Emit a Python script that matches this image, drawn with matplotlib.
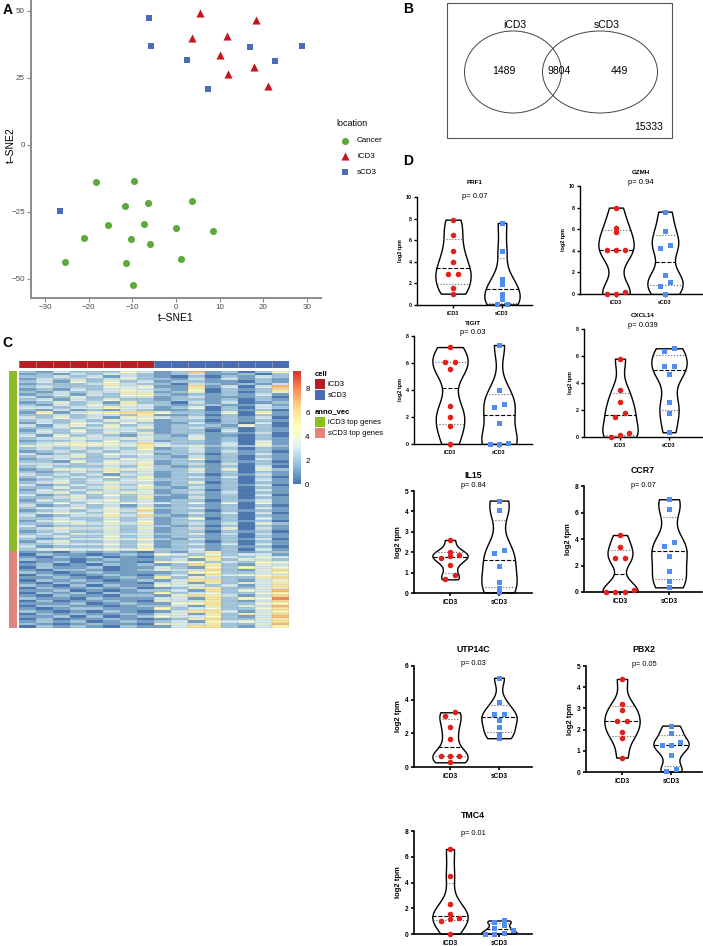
import numpy as np
import matplotlib
matplotlib.use("Agg")
import matplotlib.pyplot as plt
from matplotlib.colors import LinearSegmentedColormap, ListedColormap
from matplotlib.patches import Ellipse, Rectangle

W, H = 703, 946
plt.rcParams["font.family"] = ["Liberation Sans", "DejaVu Sans"]

# Panel A - t-SNE coordinates
cancer_x = [-18.3, -9.6, -11.7, -6.4, 3.7, -15.6, -7.3, 0.0, 8.5, -21.0, -10.3, -6.0, -25.4, -11.4, 1.1, -9.8]
cancer_y = [-13.8, -13.4, -22.8, -21.6, -20.9, -29.9, -29.5, -31.0, -32.0, -34.7, -35.0, -36.9, -43.7, -44.0, -42.5, -52.2]
icd3_x = [5.5, 18.3, 3.7, 11.7, 10.0, 11.9, 17.8, 21.0]
icd3_y = [49.2, 46.6, 39.9, 40.6, 33.6, 26.5, 29.1, 22.0]
scd3_x = [-6.2, -5.7, 2.5, 7.3, 17.0, 22.7, 28.9, -26.5]
scd3_y = [47.4, 37.0, 31.7, 21.0, 36.6, 31.3, 37.0, -24.6]

# Panel B - Venn counts
venn_sets = ["iCD3", "sCD3"]
venn_counts = [1489, 9804, 449]
venn_total = 15333

# Panel C - heatmap (one digit per cell, 8 iCD3 then 8 sCD3 samples)
cell_groups = ["iCD3"] * 8 + ["sCD3"] * 8
heat_rows_icd3 = [
    "2132225312712025", "1213243212311202", "2232313210202132", "1323234221313121",
    "2314242312211021", "1222353220321213", "2322243411613037", "1213234321502126",
    "2132335412402024", "1231324521212131", "3124223312311120", "2313242212212021",
    "1242315220313012", "2132424321221131", "3323353312402032", "2131213211202120",
    "1513456642214051", "2232332511202021", "3242314432312130", "2323243412202121",
    "1324324211312030", "3134242312221420", "2232343512312021", "1324233212203021",
    "2323242412212130", "3142321321311020", "2334334422412021", "1223242312212031",
    "2345443632213041", "4434444543423242", "2323232512312021", "1232323322313120",
    "3123243412202131", "2334232321312021", "1232224322412031", "2214243412202120",
    "3332343512313021", "2322232421212030", "1244354422414042", "2123242312312021",
    "3232313312202131", "2323242512313020", "1232323422212031", "2342343312402021",
    "3123232412212130", "2242353521312021", "1323232312202031", "2342434412313021",
    "3123242321212030", "2234232511312021", "1323342312202131", "2242434432414041",
    "3123231312212020", "2334242522312031", "1232343612202121", "2343242412313030",
    "3123353621212021", "2232232312402031", "1343242412212120", "2234343512313042",
    "3122232321202021", "2343342412314031", "1232232312202120", "2324343422413031",
    "3232242312212021", "2123343521312130", "1342232312202021", "2233342412313031",
    "3122232412212120", "2343343522312031",
]
heat_rows_scd3 = [
    "1102121021352122", "0211012143242331", "1021201022563243", "2110121123152432",
    "0120211054423254", "1201021212652143", "0211201132152534", "1022101243362146",
    "2101211112552235", "0210121023163443", "1121012152432256", "0212101213662134",
    "1021211034152545", "2102021143323136", "0211212012552244", "1120101223162437",
    "0212021152342245", "1021102214653136", "2110211133162548", "0201121043352136",
    "1112012114562245", "0221101223152437", "1012211152342246", "2101021013663135",
    "0212112134152546", "1120201243352137", "0201121012562245", "1212012123153436",
    "2101211054352247", "0212102113662135",
]

# Panel D - violin data (log2 tpm)
genes = ["PRF1", "GZMH", "TIGIT", "CXCL14", "IL15", "CCR7", "UTP14C", "PBX2", "TMC4"]
p_values = ["0.07", "0.94", "0.03", "0.039", "0.84", "0.07", "0.03", "0.05", "0.01"]
y_max = [10, 10, 8, 8, 5, 8, 6, 5, 8]
y_step = [2, 2, 2, 2, 1, 2, 2, 1, 2]
icd3_vals = [
    [7.9, 6.5, 5.0, 4.0, 2.85, 2.85, 1.6, 1.05],
    [8.0, 6.15, 5.72, 4.03, 4.03, 4.03, 0.18, 0.0, 0.0],
    [7.18, 6.1, 6.05, 5.55, 2.81, 1.98, 1.36, 0.0],
    [5.8, 3.5, 2.62, 1.75, 1.48, 0.3, 0.12, 0.0],
    [2.6, 2.03, 1.87, 1.79, 1.74, 1.38, 0.86, 0.67],
    [4.3, 3.37, 2.59, 2.57, 0.18, 0.0, 0.0, 0.0],
    [3.25, 3.05, 2.36, 1.67, 0.65, 0.65, 0.65, 0.28],
    [4.39, 3.19, 2.91, 2.4, 2.4, 1.9, 1.62, 0.68],
    [6.6, 4.52, 2.31, 1.58, 1.27, 1.2, 1.04, 0.0],
]
scd3_vals = [
    [7.6, 5.0, 2.45, 1.9, 1.05, 0.6, 0.05, 0.05],
    [7.63, 5.82, 4.55, 4.25, 1.75, 1.08, 0.77, 0.0],
    [7.33, 4.0, 2.94, 2.74, 1.56, 0.1, 0.0, 0.0],
    [6.57, 6.37, 5.23, 5.23, 4.64, 2.57, 1.8, 0.35],
    [4.53, 4.07, 2.1, 1.96, 1.3, 0.55, 0.23, 0.03],
    [7.0, 6.3, 3.75, 3.45, 2.7, 1.6, 0.8, 0.35],
    [5.3, 3.84, 3.13, 3.13, 2.8, 2.35, 1.95, 1.71],
    [2.19, 1.86, 1.43, 1.26, 1.26, 0.8, 0.14, 0.03],
    [1.05, 0.95, 0.7, 0.45, 0.3, 0.1, 0.0, 0.0],
]

fig = plt.figure(figsize=(W / 100, H / 100), dpi=100)


def px_axes(x0, y0, x1, y1):
    return fig.add_axes([x0 / W, 1 - y1 / H, (x1 - x0) / W, (y1 - y0) / H])


# ---------------- Panel A ----------------
ax = px_axes(31, 0, 321, 298)
ax.scatter(cancer_x, cancer_y, s=26, marker="o", color="#5DAA3A", linewidths=0, label="Cancer")
ax.scatter(icd3_x, icd3_y, s=34, marker="^", color="#C4161C", linewidths=0, label="iCD3")
ax.scatter(scd3_x, scd3_y, s=24, marker="s", color="#4A6DB5", linewidths=0, label="sCD3")
ax.set_xlim(-33.2, 33.2)
ax.set_ylim(-57.1, 54.1)
ax.set_xticks(range(-30, 31, 10))
ax.set_yticks([-50, -25, 0, 25, 50])
for s in ["top", "right"]:
    ax.spines[s].set_visible(False)
for s in ["left", "bottom"]:
    ax.spines[s].set_color("#8a8a8a")
    ax.spines[s].set_linewidth(1.4)
ax.tick_params(colors="#8a8a8a", labelcolor="#4d4d4d", labelsize=5.8, length=3, width=0.8, pad=1.5)

# overlay in pixel coordinates for free text and shapes
ov = fig.add_axes([0, 0, 1, 1])
ov.set_xlim(0, W)
ov.set_ylim(H, 0)
ov.axis("off")
ov.patch.set_visible(False)
ov.set_zorder(10)

ov.text(176, 318, "t\u2013SNE1", ha="center", va="center", fontsize=7.5)
ov.text(11, 145, "t\u2013SNE2", ha="center", va="center", fontsize=7.5, rotation=90)
ov.text(336, 123, "location", ha="left", va="center", fontsize=6.5)
ov.scatter([345], [141], s=26, marker="o", color="#5DAA3A", linewidths=0)
ov.scatter([345], [156], s=34, marker="^", color="#C4161C", linewidths=0)
ov.scatter([345], [172], s=24, marker="s", color="#4A6DB5", linewidths=0)
for yy, lab in zip([141, 156, 172], ["Cancer", "iCD3", "sCD3"]):
    ov.text(357, yy, lab, ha="left", va="center", fontsize=5.8)

for lx, ly, letter in [(8, 10, "A"), (408, 9, "B"), (7, 343, "C"), (408, 161, "D")]:
    ov.text(lx, ly, letter, ha="center", va="center", fontsize=10, fontweight="bold")

# ---------------- Panel B ----------------
ov.add_patch(Rectangle((447, 3), 225, 135, fill=False, edgecolor="#555555", lw=0.8))
ov.add_patch(Ellipse((513, 72), 97, 82, fill=False, edgecolor="#444444", lw=0.7))
ov.add_patch(Ellipse((600, 72), 115, 82, fill=False, edgecolor="#444444", lw=0.7))
ov.text(515, 25, venn_sets[0], ha="center", va="center", fontsize=7.5)
ov.text(607, 25, venn_sets[1], ha="center", va="center", fontsize=7.5)
for xx, c in zip([504, 559, 619], venn_counts):
    ov.text(xx, 71, str(c), ha="center", va="center", fontsize=7.5)
ov.text(649, 127, str(venn_total), ha="center", va="center", fontsize=7.5)

# ---------------- Panel C ----------------
heat = np.array([[int(ch) for ch in r] for r in heat_rows_icd3 + heat_rows_scd3], dtype=float)
n_rows, n_cols = heat.shape
cmap = LinearSegmentedColormap.from_list(
    "rdylbu", ["#4575B4", "#91BFDB", "#E0F3F8", "#FFFFBF", "#FEE090", "#FC8D59", "#D73027"])
grid_kw = dict(color="#8c8c8c", lw=0.25, alpha=0.85)

hax = px_axes(19, 371, 289, 628)
img = hax.imshow(heat, cmap=cmap, vmin=0, vmax=9.5, aspect="auto", interpolation="nearest",
                 extent=(0, n_cols, n_rows, 0))
hax.hlines(np.arange(n_rows + 1), 0, n_cols, **grid_kw)
hax.vlines(np.arange(n_cols + 1), 0, n_rows, **grid_kw)
hax.set_xlim(0, n_cols)
hax.set_ylim(n_rows, 0)
hax.axis("off")

cax_top = px_axes(19, 361, 289, 368)
cell_codes = np.array([[0 if g == "iCD3" else 1 for g in cell_groups]])
cax_top.imshow(cell_codes, cmap=ListedColormap(["#B81F25", "#4A6CB3"]), vmin=0, vmax=1,
               aspect="auto", interpolation="nearest", extent=(0, n_cols, 1, 0))
cax_top.vlines(np.arange(n_cols + 1), 0, 1, color="#b0b0b0", lw=0.4)
cax_top.set_xlim(0, n_cols)
cax_top.axis("off")

rax = px_axes(9, 371, 17, 628)
row_codes = np.array([[0]] * len(heat_rows_icd3) + [[1]] * len(heat_rows_scd3))
rax.imshow(row_codes, cmap=ListedColormap(["#8DBF1F", "#E8837B"]), vmin=0, vmax=1,
           aspect="auto", interpolation="nearest", extent=(0, 1, n_rows, 0))
rax.hlines(np.arange(n_rows + 1), 0, 1, **grid_kw)
rax.set_xlim(0, 1)
rax.set_ylim(n_rows, 0)
rax.axis("off")

cbax = px_axes(293, 371, 301, 484)
cb = fig.colorbar(img, cax=cbax, ticks=[0, 2, 4, 6, 8])
cb.outline.set_visible(False)
cbax.tick_params(length=0, labelsize=5.8, pad=3)

ov.text(315, 374, "cell", ha="left", va="center", fontsize=5.5, fontweight="bold")
ov.add_patch(Rectangle((315, 379), 10, 10, color="#B81F25", lw=0))
ov.add_patch(Rectangle((315, 390), 10, 10, color="#4A6CB3", lw=0))
ov.text(328, 384.5, "iCD3", ha="left", va="center", fontsize=5.5)
ov.text(328, 395.5, "sCD3", ha="left", va="center", fontsize=5.5)
ov.text(315, 412, "anno_vec", ha="left", va="center", fontsize=5.5, fontweight="bold")
ov.add_patch(Rectangle((315, 417), 10, 10, color="#8DBF1F", lw=0))
ov.add_patch(Rectangle((315, 428), 10, 10, color="#E8837B", lw=0))
ov.text(328, 422.5, "iCD3 top genes", ha="left", va="center", fontsize=5.5)
ov.text(328, 433.5, "sCD3 top genes", ha="left", va="center", fontsize=5.5)

# ---------------- Panel D ----------------
# x0, x1, y_bottom, y_top, title_y, p_y, large fonts
d_layout = [
    (417, 532, 305, 197, 183, 196, False),
    (580, 702, 294, 186, 173, 182, False),
    (414, 532, 444, 336, 323, 332, False),
    (584, 702, 437, 329, 315, 325, False),
    (414, 532, 593, 491, 475, 485, True),
    (584, 702, 592, 486, 470, 485, True),
    (414, 532, 767, 666, 649, 663, True),
    (586, 702, 772, 666, 649, 664, True),
    (414, 532, 934, 831, 815, 833, True),
]


def swarm_offsets(vals, tol, dx):
    # points closer than tol to the first of a group share a row
    vals = np.asarray(vals)
    order = np.argsort(vals)
    offs = np.zeros(len(vals))
    groups, cur = [], [order[0]]
    for i in order[1:]:
        if vals[i] - vals[cur[0]] < tol:
            cur.append(i)
        else:
            groups.append(cur)
            cur = [i]
    groups.append(cur)
    for g in groups:
        for k, i in enumerate(g):
            offs[i] = (k - (len(g) - 1) / 2) * dx
    return offs


def draw_violin(ax, pos, vals, ymax, color, marker, msize):
    vals = np.asarray(vals, dtype=float)
    ys = np.linspace(vals.min(), vals.max(), 200)
    h = 0.42 * np.std(vals, ddof=1)
    dens = np.exp(-0.5 * ((ys[:, None] - vals[None, :]) / h) ** 2).sum(1)
    half = dens / dens.max() * 0.36
    ax.fill_betweenx(ys, pos - half, pos + half, facecolor="white", edgecolor="black", lw=1.0, zorder=2)
    q1, med, q3 = np.percentile(vals, [25, 50, 75], method="weibull")
    for q, ls, c in [(q1, ":", "#666666"), (med, "--", "black"), (q3, ":", "#666666")]:
        hw = np.interp(q, ys, half)
        ax.plot([pos - hw, pos + hw], [q, q], ls=ls, color=c, lw=0.8, zorder=3)
    offs = swarm_offsets(vals, 0.04 * ymax, 0.19)
    ax.plot(pos + offs, vals, ls="none", marker=marker, color=color, ms=msize, mew=0, zorder=4, clip_on=False)


for i, g in enumerate(genes):
    x0, x1, yb, yt, ty, py, big = d_layout[i]
    dax = px_axes(x0, yt, x1, yb)
    dax.patch.set_visible(False)
    draw_violin(dax, 0, icd3_vals[i], y_max[i], "#E3201B", "o", 4.0)
    draw_violin(dax, 1, scd3_vals[i], y_max[i], "#4F8DF5", "s", 3.6)
    dax.set_xlim(-36 / 49, (x1 - x0 - 36) / 49)
    dax.set_ylim(0, y_max[i])
    dax.set_yticks(np.arange(0, y_max[i] + 0.1, y_step[i]))
    dax.set_xticks([0, 1])
    dax.set_xticklabels(["iCD3", "sCD3"])
    for s in ["top", "right"]:
        dax.spines[s].set_visible(False)
    lw = 1.2 if big else 1.0
    fs = 4.8 if big else 3.8
    for s in ["left", "bottom"]:
        dax.spines[s].set_linewidth(lw)
    dax.tick_params(labelsize=fs, length=2.5, width=lw, pad=1.5)
    for lab in dax.get_xticklabels() + dax.get_yticklabels():
        lab.set_fontweight("bold")
    dax.set_ylabel("log2 tpm", fontsize=5.5 if big else 4.0, fontweight="bold", labelpad=2)
    cx = (x0 + x1) / 2
    ov.text(cx, ty, g, ha="center", va="center", fontsize=6.3 if big else 4.5, fontweight="bold")
    ov.text(cx, py, "p= " + p_values[i], ha="center", va="center", fontsize=5.3 if big else 5.5)

fig.savefig("out.png", dpi=100)
